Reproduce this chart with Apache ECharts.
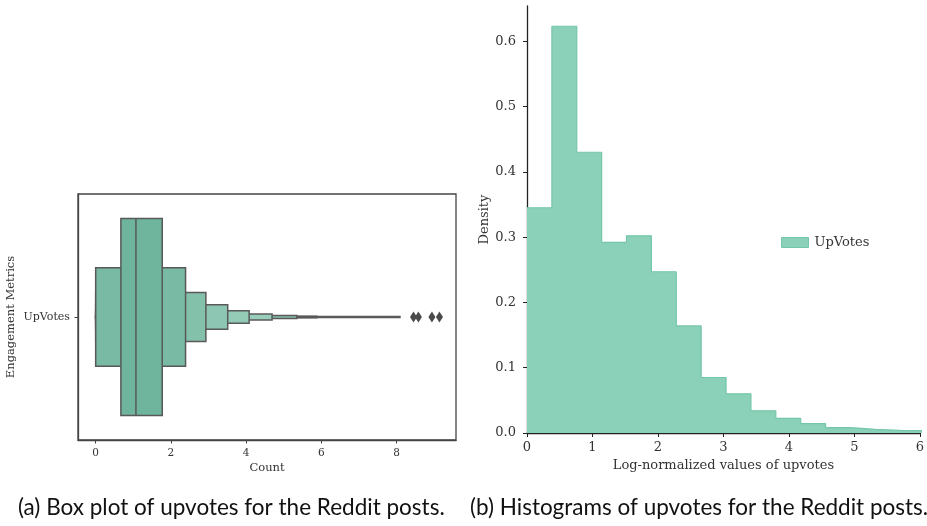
<!DOCTYPE html>
<html>
<head>
<meta charset="utf-8">
<script src="https://cdn.jsdelivr.net/npm/echarts@6/dist/echarts.min.js"></script>
<style>
html,body{margin:0;padding:0;background:#fff;}
#chart{width:927px;height:526px;}
</style>
</head>
<body>
<div id="chart"></div>
<script>
// ---- Data: boxen (letter-value) plot of upvotes ----
const boxCategories = ['UpVotes'];
const boxLevelLower = [0.67, 0.00, 0.00, 0.00, 0.00, 0.00, 0.00, 0.00, 0.00];
const boxLevelUpper = [1.77, 2.39, 2.93, 3.51, 4.08, 4.69, 5.35, 5.88, 8.09];
const boxMedian = 1.07;
const boxOutliers = [8.45, 8.58, 8.94, 9.14];
const boxTicks = [0, 2, 4, 6, 8];

// ---- Data: histogram of log-normalized upvotes ----
const histEdges = [0, 0.38, 0.76, 1.14, 1.52, 1.90, 2.28, 2.66, 3.04, 3.42, 3.80, 4.18, 4.56, 4.94, 5.32, 5.70, 6.08];
const histDensity = [0.345, 0.623, 0.430, 0.292, 0.302, 0.247, 0.164, 0.085, 0.060, 0.034, 0.0225, 0.0144, 0.0083, 0.0057, 0.0040, 0.0037];
const histXTicks = [0, 1, 2, 3, 4, 5, 6];
const histYTicks = [0.0, 0.1, 0.2, 0.3, 0.4, 0.5, 0.6];

// ---- Styles ----
const levelColors = ['#6fb59d', '#78baa3', '#84c1ab', '#8dc7b3', '#94cbb7', '#99ceba', '#86c0aa', '#a3d3c1', '#8fc5b0'];
const boxEdge = '#595959';
const serif = 'DejaVu Serif';

const chart = echarts.init(document.getElementById('chart'), null, {renderer: 'canvas'});

const boxData = boxLevelLower.map((lo, i) => [lo, boxLevelUpper[i], i]);
const stepData = histDensity.map((d, i) => [histEdges[i], d]);
stepData.push([histEdges[histEdges.length - 1], histDensity[histDensity.length - 1]]);

const option = {
  animation: false,
  backgroundColor: '#ffffff',
  grid: [
    {left: 78, right: 471, top: 194, bottom: 86, show: true, borderColor: '#444', borderWidth: 1.3, backgroundColor: 'transparent'},
    {left: 527, right: 7, top: 6, bottom: 93}
  ],
  xAxis: [
    {
      gridIndex: 0, type: 'value', min: -0.47, max: 9.58,
      name: 'Count', nameLocation: 'middle', nameGap: 22,
      nameTextStyle: {fontFamily: serif, fontSize: 11.5, color: '#333'},
      axisLine: {show: true, onZero: false, lineStyle: {color: '#444', width: 1.3}},
      axisTick: {show: true, length: 3.5, lineStyle: {color: '#444'}, customValues: boxTicks},
      axisLabel: {fontFamily: serif, fontSize: 10.5, color: '#333', margin: 8, customValues: boxTicks},
      splitLine: {show: false}
    },
    {
      gridIndex: 1, type: 'value', min: 0, max: 6,
      name: 'Log-normalized values of upvotes', nameLocation: 'middle', nameGap: 26,
      nameTextStyle: {fontFamily: serif, fontSize: 13, color: '#333'},
      axisLine: {show: true, onZero: false, lineStyle: {color: '#222', width: 1.3}},
      axisTick: {show: true, length: 4, lineStyle: {color: '#222'}, customValues: histXTicks},
      axisLabel: {fontFamily: serif, fontSize: 13, color: '#333', margin: 8, customValues: histXTicks},
      splitLine: {show: false}
    }
  ],
  yAxis: [
    {
      gridIndex: 0, type: 'category', data: boxCategories, boundaryGap: true,
      name: 'Engagement Metrics', nameLocation: 'middle', nameGap: 61,
      nameTextStyle: {fontFamily: serif, fontSize: 11.5, color: '#333'},
      axisLine: {show: true, onZero: false, lineStyle: {color: '#444', width: 1.3}},
      axisTick: {show: true, alignWithLabel: true, length: 3.5, lineStyle: {color: '#444'}},
      axisLabel: {fontFamily: serif, fontSize: 11, color: '#333', margin: 8},
      splitLine: {show: false}
    },
    {
      gridIndex: 1, type: 'value', min: 0, max: 0.654,
      name: 'Density', nameLocation: 'middle', nameGap: 36,
      nameTextStyle: {fontFamily: serif, fontSize: 13, color: '#333'},
      axisLine: {show: true, onZero: false, lineStyle: {color: '#222', width: 1.3}},
      axisTick: {show: true, length: 4, lineStyle: {color: '#222'}, customValues: histYTicks},
      axisLabel: {fontFamily: serif, fontSize: 13, color: '#333', margin: 11, customValues: histYTicks,
        formatter: v => Number(v).toFixed(1)},
      splitLine: {show: false}
    }
  ],
  legend: {
    show: true, left: 781, top: 236, orient: 'vertical', padding: 0,
    itemWidth: 27, itemHeight: 10, itemGap: 10,
    textStyle: {fontFamily: serif, fontSize: 13, color: '#333', padding: [0, 0, 0, 1]},
    data: [{name: 'UpVotes', icon: 'rect', itemStyle: {color: '#8bd0b9', borderColor: '#74c7a6', borderWidth: 1}}]
  },
  series: [
    {
      name: 'boxen', type: 'custom', xAxisIndex: 0, yAxisIndex: 0,
      data: boxData,
      encode: {x: [0, 1], y: 2},
      renderItem: function (params, api) {
        const k = api.value(2);
        const p0 = api.coord([api.value(0), 0]);
        const p1 = api.coord([api.value(1), 0]);
        const band = api.size([0, 1])[1];
        const half = band * 0.8 / Math.pow(2, k + 1);
        return {
          type: 'rect', z2: 100 - k,
          shape: {x: p0[0], y: p0[1] - half, width: p1[0] - p0[0], height: half * 2},
          style: {fill: levelColors[k], stroke: boxEdge, lineWidth: 1.5}
        };
      }
    },
    {
      name: 'median', type: 'custom', xAxisIndex: 0, yAxisIndex: 0,
      data: [[boxMedian, 0]],
      z: 3,
      renderItem: function (params, api) {
        const p = api.coord([api.value(0), 0]);
        const band = api.size([0, 1])[1];
        const half = band * 0.8 / 2;
        return {
          type: 'line', z2: 200,
          shape: {x1: p[0], y1: p[1] - half, x2: p[0], y2: p[1] + half},
          style: {stroke: boxEdge, lineWidth: 1.5}
        };
      }
    },
    {
      name: 'outliers', type: 'scatter', xAxisIndex: 0, yAxisIndex: 0,
      data: boxOutliers.map(v => [v, 0]),
      symbol: 'diamond', symbolSize: [7, 11],
      itemStyle: {color: '#4a4a4a', opacity: 1}, z: 4
    },
    {
      name: 'UpVotes', type: 'line', xAxisIndex: 1, yAxisIndex: 1,
      data: stepData, step: 'end', showSymbol: false, symbol: 'none',
      clip: true,
      lineStyle: {color: '#74c7a6', width: 1.2},
      itemStyle: {color: '#8bd0b9'},
      areaStyle: {color: '#8bd0b9', opacity: 1}
    }
  ],
  graphic: [
    {type: 'text', left: 18, top: 496, style: {text: '(a) Box plot of upvotes for the Reddit posts.', font: '22.5px Lato', fill: '#111'}},
    {type: 'text', left: 470, top: 496, style: {text: '(b) Histograms of upvotes for the Reddit posts.', font: '22.5px Lato', fill: '#111'}}
  ]
};
chart.setOption(option);
</script>
</body>
</html>
